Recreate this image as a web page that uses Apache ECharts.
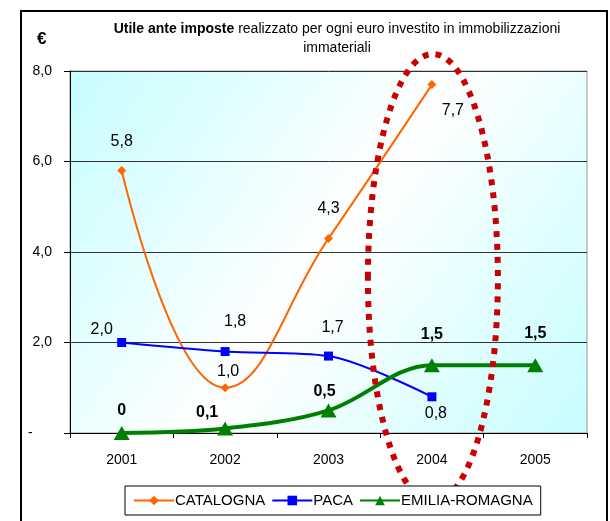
<!DOCTYPE html>
<html>
<head>
<meta charset="utf-8">
<script src="https://cdn.jsdelivr.net/npm/echarts@6/dist/echarts.min.js"></script>
<style>
    html, body { margin: 0; padding: 0; background: #fff; }
    #container { width: 610px; height: 521px; }
</style>
</head>
<body>
<div id="container"></div>
<script>
// dati
var anni = ['2001', '2002', '2003', '2004', '2005'];
var catalogna = [5.8, 1.0, 4.3, 7.7, null];
var paca = [2.0, 1.8, 1.7, 0.8, null];
var emilia = [0, 0.1, 0.5, 1.5, 1.5];
var yTicks = [0, 2, 4, 6, 8];

// spostamento etichette rispetto al punto [dx, dy]
var offCat = [[0, -29], [3, -16], [0, -30], [21, 26], [0, 0]];
var offPaca = [[-20, -13], [10, -30], [4, -28], [4, 17], [0, 0]];
var offEmilia = [[0, -22], [-18, -16], [-4, -19], [0, -31], [0, -32]];

var FONT = 'Liberation Sans Narrow, Arial Narrow, Liberation Sans, Arial, sans-serif';
var NUMFONT = 'Liberation Sans, Arial, sans-serif';

function fmt(v) {
    if (v === 0) return '0';
    return v.toFixed(1).replace('.', ',');
}

function punti(vals, off) {
    var out = [];
    for (var i = 0; i < vals.length; i++) {
        out.push({
            value: vals[i],
            label: { offset: off[i] }
        });
    }
    return out;
}

var dom = document.getElementById('container');
var myChart = echarts.init(dom);

var option = {
    backgroundColor: '#fff',
    animation: false,
    title: {
        text: '{b|Utile ante imposte} {n|realizzato per ogni euro investito in immobilizzazioni}\n{n|immateriali}',
        left: 332,
        top: 15,
        textAlign: 'center',
        textStyle: {
            fontWeight: 'normal',
            fontSize: 14,
            rich: {
                b: { fontFamily: FONT, fontSize: 14, fontWeight: 'bold', color: '#000', lineHeight: 19 },
                n: { fontFamily: FONT, fontSize: 14, fontWeight: 'normal', color: '#000', lineHeight: 19 }
            }
        }
    },
    legend: {
        left: 125,
        top: 486,
        width: 420,
        padding: [7, 8, 7, 8],
        backgroundColor: '#fff',
        borderColor: '#000',
        borderWidth: 1,
        itemWidth: 40,
        itemHeight: 12,
        itemGap: 6,
        z: 50,
        textStyle: { fontFamily: FONT, fontSize: 15, color: '#000', padding: [0, 0, 0, -4] },
        data: ['CATALOGNA', 'PACA', 'EMILIA-ROMAGNA']
    },
    grid: {
        left: 70,
        right: 23,
        top: 71,
        bottom: 88,
        show: true,
        borderColor: '#999',
        borderWidth: 1,
        backgroundColor: {
            type: 'linear', x: 0, y: 0, x2: 1, y2: 1,
            colorStops: [
                { offset: 0, color: '#c6fdff' },
                { offset: 0.5, color: '#ffffff' },
                { offset: 1, color: '#c6fdff' }
            ]
        }
    },
    xAxis: {
        type: 'category',
        data: anni,
        boundaryGap: true,
        axisLine: { lineStyle: { color: '#000', width: 1 } },
        axisTick: { show: true, length: 5, lineStyle: { color: '#000' } },
        axisLabel: { margin: 20, fontFamily: NUMFONT, fontSize: 14, color: '#000' }
    },
    yAxis: {
        type: 'value',
        min: yTicks[0],
        max: yTicks[yTicks.length - 1],
        interval: 2,
        axisLine: { show: true, lineStyle: { color: '#000', width: 1 } },
        axisTick: { show: true, length: 6, lineStyle: { color: '#000' } },
        splitLine: { lineStyle: { color: '#333', width: 1 } },
        axisLabel: {
            margin: 18,
            fontFamily: NUMFONT,
            fontSize: 14,
            color: '#000',
            formatter: function (v) {
                return v === 0 ? '-     ' : v.toFixed(1).replace('.', ',');
            }
        }
    },
    series: [
        {
            name: 'CATALOGNA',
            type: 'line',
            smooth: 0.45,
            data: punti(catalogna, offCat),
            symbol: 'diamond',
            symbolSize: 9,
            itemStyle: { color: '#ff6600' },
            lineStyle: { color: '#ff6600', width: 2 },
            label: {
                show: true,
                position: 'inside',
                fontFamily: NUMFONT,
                fontSize: 16,
                color: '#000',
                formatter: function (p) { return fmt(p.value); }
            },
            z: 3
        },
        {
            name: 'PACA',
            type: 'line',
            smooth: 0.3,
            data: punti(paca, offPaca),
            symbol: 'rect',
            symbolSize: 9,
            itemStyle: { color: '#0000ff' },
            lineStyle: { color: '#0000ff', width: 2 },
            label: {
                show: true,
                position: 'inside',
                fontFamily: NUMFONT,
                fontSize: 16,
                color: '#000',
                formatter: function (p) { return fmt(p.value); }
            },
            z: 4
        },
        {
            name: 'EMILIA-ROMAGNA',
            type: 'line',
            smooth: 0.35,
            data: punti(emilia, offEmilia),
            symbol: 'triangle',
            symbolSize: [16, 14],
            itemStyle: { color: '#008000' },
            lineStyle: { color: '#008000', width: 4 },
            label: {
                show: true,
                position: 'inside',
                fontFamily: NUMFONT,
                fontSize: 16,
                fontWeight: 'bold',
                color: '#000',
                formatter: function (p) { return fmt(p.value); }
            },
            z: 5
        }
    ]
};

myChart.setOption(option, true);

// cornice, simbolo euro ed ellisse rossa attorno al 2004
var c = myChart.convertToPixel({ xAxisIndex: 0, yAxisIndex: 0 }, ['2004', 0]);
myChart.setOption({
    graphic: [
        {
            type: 'rect',
            shape: { x: 21, y: 11, width: 586, height: 520 },
            style: { fill: 'none', stroke: '#000', lineWidth: 2 },
            z: 1
        },
        {
            type: 'text',
            left: 37,
            top: 31,
            style: { text: '€', fontFamily: NUMFONT, fontSize: 17, fontWeight: 'bold', fill: '#000' },
            z: 10
        },
        {
            type: 'ellipse',
            shape: { cx: c[0] + 1, cy: 278, rx: 65, ry: 224 },
            style: { fill: 'none', stroke: '#cc0000', lineWidth: 6, lineDash: [6, 7] },
            z: 20
        }
    ]
});
</script>
</body>
</html>
